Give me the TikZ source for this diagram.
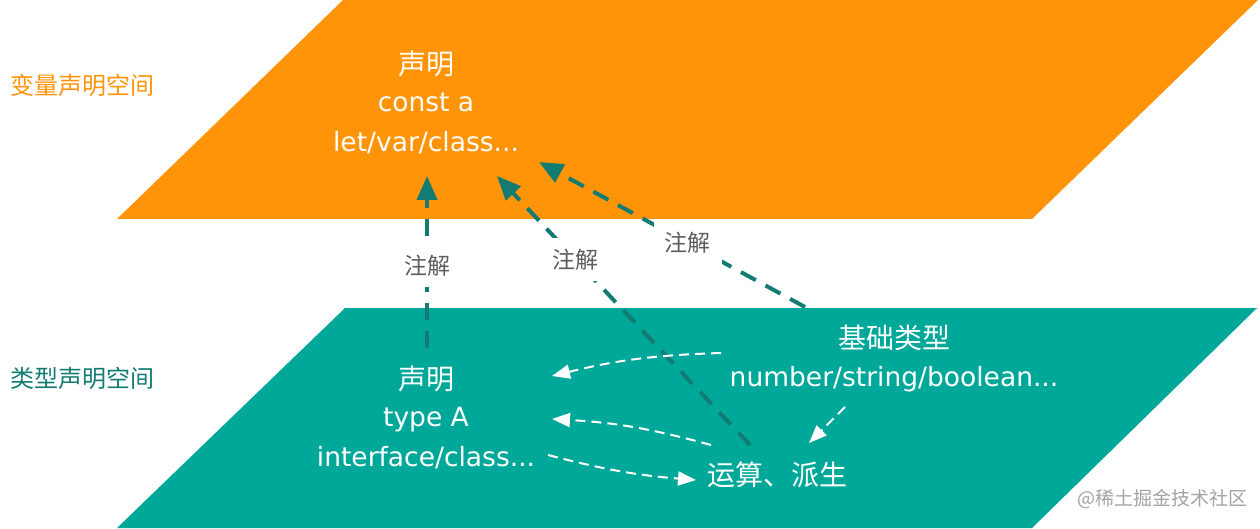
\documentclass[tikz,border=0pt]{standalone}
\usepackage{fontspec}
\usepackage{tikz}
\usetikzlibrary{arrows.meta,calc}
\setmainfont{DejaVu Sans}
\newfontfamily\cjk{Noto Sans CJK SC}

\definecolor{varorange}{HTML}{FF9408}
\definecolor{typeteal}{HTML}{00A89A}
\definecolor{linkteal}{HTML}{127C72}
\definecolor{notegray}{HTML}{5E5E5E}
\definecolor{markgray}{HTML}{A3A3A3}

\tikzset{
  cjktext/.style={font=\cjk\fontsize{28}{30}\selectfont, text=white, text height=24pt, text depth=4pt},
  codetext/.style={font=\fontsize{26.5}{30}\selectfont, text=white, text height=19pt, text depth=5pt},
  spacetext/.style={font=\cjk\fontsize{24}{26}\selectfont},
  note/.style={font=\cjk\fontsize{23}{25}\selectfont, text=notegray, fill=white, inner sep=11pt},
  annot/.style={draw=linkteal, line width=4pt, dash pattern=on 17pt off 11pt, -{Triangle[length=24pt,width=20pt]}},
  derive/.style={draw=white, line width=2pt, dash pattern=on 10pt off 6pt, -{Triangle[length=18pt,width=14pt]}},
}

\begin{document}
\begin{tikzpicture}[x=1pt,y=1pt]
\useasboundingbox (0,0) rectangle (1260,528);
% planes
\fill[varorange] (117,309) -- (343,528) -- (1258,528) -- (1032,309) -- cycle;
\fill[typeteal] (117,0) -- (345,220) -- (1257,220) -- (1032,0) -- cycle;

\node[spacetext, text=varorange] (vspace) at (82,443) {变量声明空间};
\node[spacetext, text=linkteal] (tspace) at (82,150) {类型声明空间};

% variable space
\node[cjktext] (vdecl) at (426,463) {声明};
\node[codetext] (vconst) at (426,423) {const a};
\node[codetext] (vlet) at (426,383) {let/var/class...};

% type space
\node[cjktext] (tdecl) at (426,149) {声明};
\node[codetext] (ttype) at (426,109) {type A};
\node[codetext] (tiface) at (426,69) {interface/class...};
\node[cjktext] (basic) at (894,190) {基础类型};
\node[codetext] (prims) at (894,149) {number/string/boolean...};
\node[cjktext] (ops) at (777,53) {运算、派生};

\node[font=\cjk\fontsize{19}{21}\selectfont, text=markgray] (mark) at (1162,29) {@稀土掘金技术社区};

% annotations
\draw[annot] ($(tdecl)+(1,31)$) -- ($(vlet)+(1,-31)$) node[note, pos=0.48] {注解};
\draw[annot] ($(ops)+(-27,30)$) -- ($(vlet)+(71,-31)$) node[note, pos=0.69] {注解};
\draw[annot] ($(basic)+(-89,31)$) -- ($(vlet)+(113,-17)$) node[note, pos=0.44] {注解};

% derivations
\draw[derive] ($(prims)+(-173,26)$) to[bend right=6] ($(tdecl)+(126,3)$);
\draw[derive] ($(ops)+(-66,30)$) to[bend right=6] ($(ttype)+(126,0)$);
\draw[derive] ($(tiface)+(122,4)$) to[bend right=5] ($(ops)+(-81,-5)$);
\draw[derive] ($(prims)+(-49,-28)$) -- ($(ops)+(32,32)$);
\end{tikzpicture}
\end{document}
